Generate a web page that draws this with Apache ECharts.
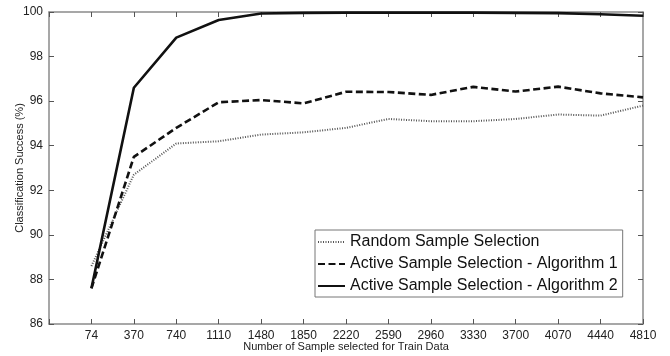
<!DOCTYPE html>
<html><head><meta charset="utf-8">
<script src="https://cdn.jsdelivr.net/npm/echarts@6/dist/echarts.min.js"></script>
<style>html,body{margin:0;padding:0;background:#fff}#c{width:670px;height:356px}</style>
</head><body><div id="c"></div>
<script>
const categories = ['74','370','740','1110','1480','1850','2220','2590','2960','3330','3700','4070','4440','4810'];
const randomSel = [88.6, 92.7, 94.1, 94.2, 94.5, 94.6, 94.8, 95.2, 95.1, 95.1, 95.2, 95.4, 95.35, 95.8];
const algo1 = [87.6, 93.5, 94.8, 95.95, 96.05, 95.9, 96.42, 96.41, 96.28, 96.64, 96.43, 96.65, 96.35, 96.17];
const algo2 = [87.6, 96.6, 98.85, 99.64, 99.93, 99.96, 99.97, 99.97, 99.97, 99.97, 99.96, 99.95, 99.9, 99.83];
const yTicks = [86, 88, 90, 92, 94, 96, 98, 100];
const seriesNames = ['Random Sample Selection', 'Active Sample Selection - Algorithm 1', 'Active Sample Selection - Algorithm 2'];

const axisLabels = [''].concat(categories);
const pad = arr => ['-'].concat(arr);
const font = 'Liberation Sans, Arial, sans-serif';
const axisColor = '#8a8a8a';

const chart = echarts.init(document.getElementById('c'), null, {renderer: 'canvas'});
chart.setOption({
  animation: false,
  backgroundColor: '#fff',
  grid: {left: 49, right: 27, top: 12, bottom: 32, containLabel: false, outerBoundsMode: 'none'},
  xAxis: [{
    type: 'category', data: axisLabels, boundaryGap: false, position: 'bottom',
    axisLine: {lineStyle: {color: axisColor, width: 1.5}},
    axisTick: {inside: true, length: 5, interval: 0, lineStyle: {color: '#555'}},
    axisLabel: {interval: 0, color: '#222', fontFamily: font, fontSize: 12, margin: 6, hideOverlap: false},
    splitLine: {show: false},
    name: 'Number of Sample selected for Train Data', nameLocation: 'middle', nameGap: 17,
    nameMoveOverlap: false,
    nameTextStyle: {color: '#222', fontFamily: font, fontSize: 11}
  }, {
    type: 'category', data: axisLabels, boundaryGap: false, position: 'top',
    axisLine: {lineStyle: {color: axisColor, width: 1.5}},
    axisTick: {inside: true, length: 5, interval: 0, lineStyle: {color: '#555'}},
    axisLabel: {show: false}, splitLine: {show: false}
  }],
  yAxis: [{
    type: 'value', min: 86, max: 100, interval: 2, position: 'left',
    axisLine: {show: true, lineStyle: {color: axisColor, width: 1.5}},
    axisTick: {show: true, inside: true, length: 5, lineStyle: {color: '#555'}},
    axisLabel: {color: '#222', fontFamily: font, fontSize: 12, margin: 6,
      formatter: v => yTicks.indexOf(v) >= 0 ? String(v) : ''},
    splitLine: {show: false},
    name: 'Classification Success (%)', nameLocation: 'middle', nameGap: 24,
    nameMoveOverlap: false,
    nameTextStyle: {color: '#222', fontFamily: font, fontSize: 11}
  }, {
    type: 'value', min: 86, max: 100, interval: 2, position: 'right',
    axisLine: {show: true, lineStyle: {color: axisColor, width: 1.5}},
    axisTick: {show: true, inside: true, length: 5, lineStyle: {color: '#555'}},
    axisLabel: {show: false}, splitLine: {show: false}
  }],
  legend: {
    orient: 'vertical', left: 315, top: 230,
    backgroundColor: '#fff', borderColor: '#777', borderWidth: 1,
    padding: [4, 5, 3, 2], itemGap: 6, itemWidth: 27, itemHeight: 14,
    itemStyle: {opacity: 0},
    textStyle: {fontFamily: font, fontSize: 16, color: '#111'},
    data: seriesNames
  },
  series: [{
    name: seriesNames[0], type: 'line', data: pad(randomSel),
    symbol: 'none', z: 2,
    lineStyle: {color: '#555', width: 2, type: [1, 1.5]},
    itemStyle: {color: '#555'}
  }, {
    name: seriesNames[1], type: 'line', data: pad(algo1),
    symbol: 'none', z: 3,
    lineStyle: {color: '#111', width: 2.6, type: [7, 3.5]},
    itemStyle: {color: '#111'}
  }, {
    name: seriesNames[2], type: 'line', data: pad(algo2),
    symbol: 'none', z: 4,
    lineStyle: {color: '#111', width: 2.6},
    itemStyle: {color: '#111'}
  }]
});
</script></body></html>
